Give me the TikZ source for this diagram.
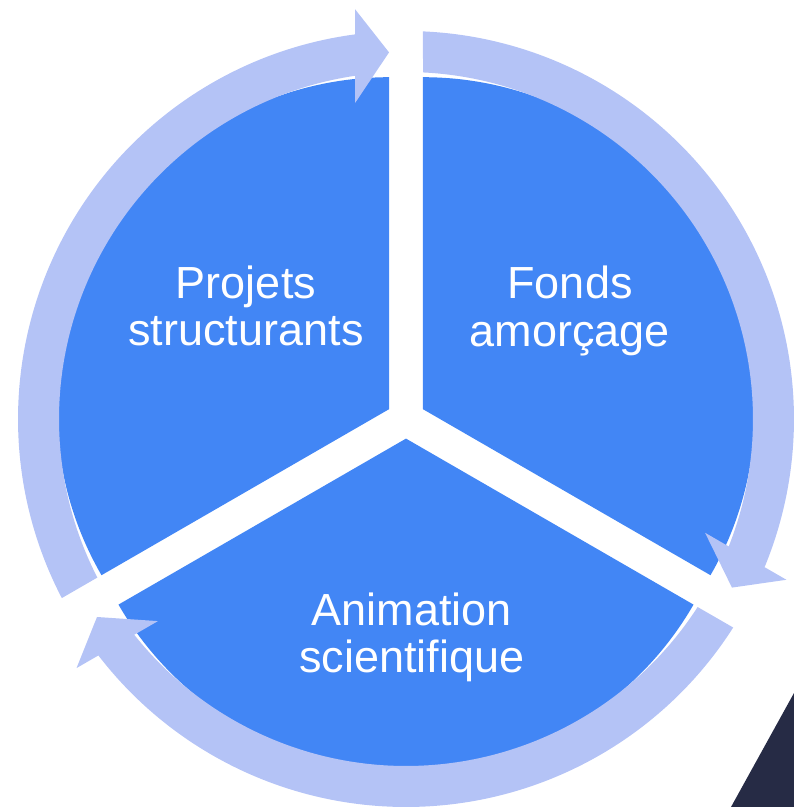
\documentclass[tikz,border=0pt]{standalone}
\usepackage{fontspec}
\setmainfont{Liberation Sans}
\definecolor{pieblue}{RGB}{66,134,245}
\definecolor{ringblue}{RGB}{180,195,246}
\definecolor{darknavy}{RGB}{38,43,69}
\begin{document}
\begin{tikzpicture}[x=1bp,y=1bp,
    sector/.style={fill=pieblue},
    ringarrow/.style={fill=ringblue},
    label/.style={text=white,align=center,font=\fontsize{45bp}{47.5bp}\selectfont}]
    \useasboundingbox (-406,-388) rectangle (388,419);
    \fill[darknavy] (388,-274) -- (388,-388) -- (325,-388) -- cycle;
    % three pie slices, pushed apart
    \foreach \b in {150,30,270}
        \fill[sector] (\b:19.6) -- ++(\b+60:332)
            arc[start angle=\b+60, end angle=\b-60, radius=332] -- cycle;
    % ring arrows
    \foreach \e in {90,330,210}
        \fill[ringarrow] (\e+117.49:388)
            arc[start angle=\e+117.49, end angle=\e+7.55, radius=388]
            -- (\e+7.09:413) -- (\e+2.65:367) -- (\e+9.17:320) -- (\e+8.45:347)
            arc[start angle=\e+8.45, end angle=\e+117.19, radius=347] -- cycle;
    \node[label] (projets) at (-160,113) {Projets\\structurants};
    \node[label] (fonds) at (164,108) {Fonds\\amorçage};
    \node[label] (animation) at (6,-218.5) {Animation\\scientifique};
\end{tikzpicture}
\end{document}
